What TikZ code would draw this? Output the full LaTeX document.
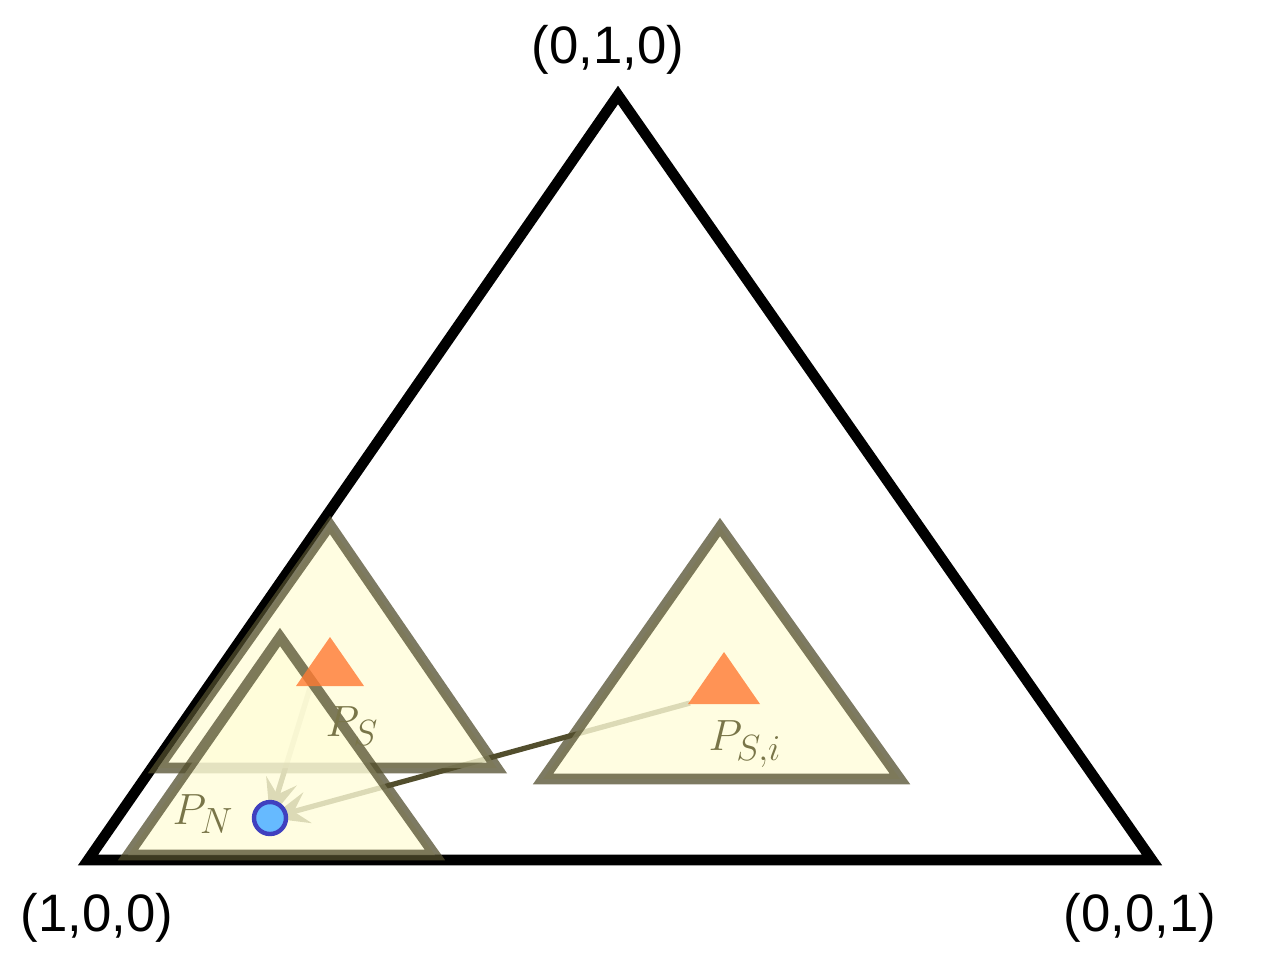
\documentclass[tikz,border=0pt]{standalone}
\usepackage{fontspec}
\setmainfont{Liberation Sans}
\usetikzlibrary{arrows.meta}
\tikzset{
    region/.style={draw=black!55!olive,line width=6pt,fill=yellow!15,fill opacity=0.8,draw opacity=0.75,line join=miter},
    sample/.style={fill=orange!70!red!80!white,draw=none,opacity=0.8},
    shift arrow/.style={draw=black!55!olive,line width=3pt,-{Stealth[length=22pt,width=18pt,inset=8pt]}},
    label/.style={font=\fontsize{30}{34}\selectfont,text=black!50!olive!80!white}
}
\begin{document}
\begin{tikzpicture}[x=0.02cm,y=-0.02cm]
        \useasboundingbox (0,0) rectangle (1263,954);
        %% simplex
        \draw[line width=6pt,line join=miter] (88,860) -- (618,95) -- (1152,860) -- cycle;
        \node[font=\fontsize{30}{34}\selectfont] (top) at (608,50) {(0,1,0)};
        \node[font=\fontsize{30}{34}\selectfont] (left) at (97,918) {(1,0,0)};
        \node[font=\fontsize{30}{34}\selectfont] (right) at (1140,918) {(0,0,1)};
        %% arrows
        \coordinate (si) at (690,703);
        \coordinate (s) at (310,688);
        \coordinate (n) at (270,818);
        \draw[shift arrow] (si) -- (n);
        \draw[shift arrow] (s) -- (n);
        %% regions
        \draw[region] (330,525) -- (497,768) -- (158,768) -- cycle;
        \draw[region] (280,637) -- (435,855) -- (128,855) -- cycle;
        \draw[region] (720,527) -- (900,779) -- (543,779) -- cycle;
        %% points
        \fill[sample] (330,637) -- (364,686) -- (296,686) -- cycle;
        \fill[sample] (724,652) -- (760,704) -- (688,704) -- cycle;
        \draw[line width=2.5pt,draw=blue!50!gray,fill=blue!45!cyan!60!white] (n) circle (16);
        %% labels
        \node[label] (ps) at (352,726) {$P_S$};
        \node[label] (pn) at (203,814) {$P_N$};
        \node[label] (psi) at (745,744) {$P_{S,i}$};
    \end{tikzpicture}
\end{document}
